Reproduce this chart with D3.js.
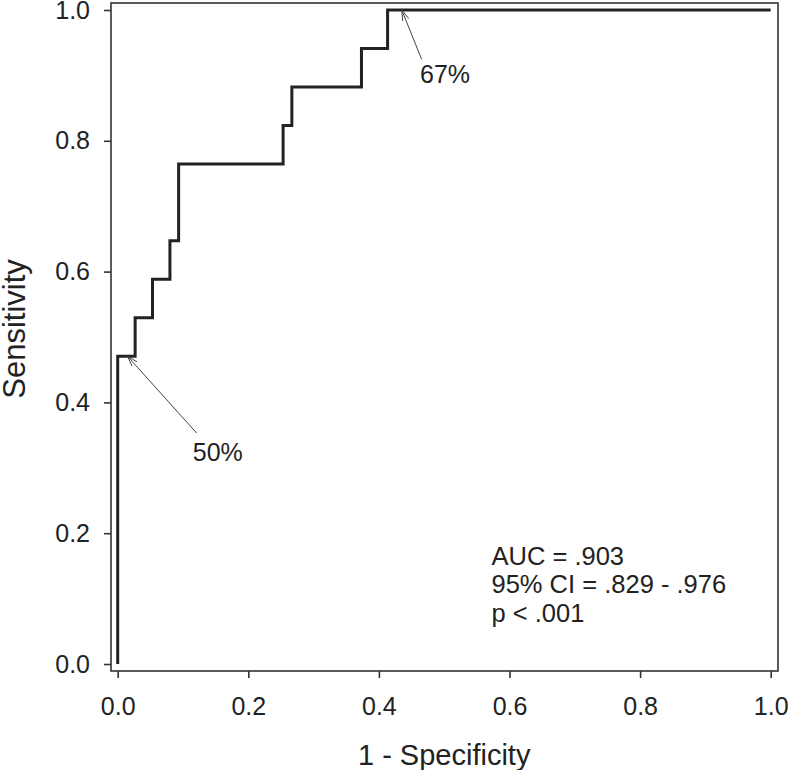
<!DOCTYPE html>
<html><head><meta charset="utf-8">
<script src="https://cdn.jsdelivr.net/npm/d3@7"></script>
<style>body{margin:0;background:#fff}svg{display:block}text{font-family:"Liberation Sans",Arial,Helvetica,sans-serif;fill:#222}</style>
</head><body><svg id="c" width="788" height="770"></svg>
<script>
// ROC curve data (1 - specificity, sensitivity)
const fpr = [0, 0, 0.0267, 0.0267, 0.0533, 0.0533, 0.08, 0.08, 0.0933, 0.0933, 0.2533, 0.2533, 0.2667, 0.2667, 0.3733, 0.3733, 0.4133, 0.4133, 1.0];
const tpr = [0, 0.4706, 0.4706, 0.5294, 0.5294, 0.5882, 0.5882, 0.6471, 0.6471, 0.7647, 0.7647, 0.8235, 0.8235, 0.8824, 0.8824, 0.9412, 0.9412, 1.0, 1.0];
const xTicks = [0, 0.2, 0.4, 0.6, 0.8, 1.0];
const yTicks = [0, 0.2, 0.4, 0.6, 0.8, 1.0];
const annLabels = ["50%", "67%"];
const annPoint = [[0.015, 0.4706], [0.435, 1.0]];
const annTail = [[0.121, 0.353], [0.4655, 0.9246]];
const annText = [[0.115, 0.31], [0.463, 0.889]];
const statsLines = ["AUC = .903", "95% CI = .829 - .976", "p < .001"];

const svg = d3.select("#c");
const x = d3.scaleLinear().domain([0, 1]).range([117.7, 770.7]);
const y = d3.scaleLinear().domain([0, 1]).range([664, 10]);
const frame = {l: 111, r: 778, t: 3, b: 671};

// frame
svg.append("rect").attr("x", frame.l).attr("y", frame.t)
  .attr("width", frame.r - frame.l).attr("height", frame.b - frame.t)
  .attr("fill", "none").attr("stroke", "#333").attr("stroke-width", 1.6);

const fmt = d3.format(".1f");
const gx = svg.append("g").attr("transform", `translate(0,${frame.b})`)
  .call(d3.axisBottom(x).tickValues(xTicks).tickFormat(fmt).tickSize(7).tickPadding(19));
const gy = svg.append("g").attr("transform", `translate(${frame.l},0)`)
  .call(d3.axisLeft(y).tickValues(yTicks).tickFormat(fmt).tickSize(7).tickPadding(14));
[gx, gy].forEach(g => {
  g.select(".domain").remove();
  g.selectAll(".tick line").attr("stroke", "#333").attr("stroke-width", 1.6);
  g.selectAll(".tick text").attr("font-size", 25).attr("fill", "#222")
    .attr("font-family", '"Liberation Sans",Arial,sans-serif');
});

// axis titles
svg.append("text").attr("x", x(0.5)).attr("y", 765).attr("text-anchor", "middle")
  .attr("font-size", 29).text("1 - Specificity");
svg.append("text").attr("transform", `translate(24.5,329) rotate(-90)`)
  .attr("text-anchor", "middle").attr("font-size", 31).text("Sensitivity");

// ROC step curve
const pts = fpr.map((v, i) => [v, tpr[i]]);
svg.append("path").datum(pts)
  .attr("d", d3.line().x(d => x(d[0])).y(d => y(d[1])))
  .attr("fill", "none").attr("stroke", "#222").attr("stroke-width", 3).attr("stroke-linejoin", "miter");

// annotations
annLabels.forEach((lab, i) => {
  const [tx, ty] = [x(annTail[i][0]), y(annTail[i][1])];
  const [px, py] = [x(annPoint[i][0]), y(annPoint[i][1])];
  svg.append("line").attr("x1", tx).attr("y1", ty).attr("x2", px).attr("y2", py)
    .attr("stroke", "#444").attr("stroke-width", 1);
  const ang = Math.atan2(ty - py, tx - px);
  const L = 11, a = 0.3;
  [ang - a, ang + a].forEach(t => {
    svg.append("line").attr("x1", px).attr("y1", py)
      .attr("x2", px + L * Math.cos(t)).attr("y2", py + L * Math.sin(t))
      .attr("stroke", "#444").attr("stroke-width", 1);
  });
  svg.append("text").attr("x", x(annText[i][0])).attr("y", y(annText[i][1]))
    .attr("font-size", 25).text(lab);
});

// stats text
svg.append("g").selectAll("text").data(statsLines).join("text")
  .attr("x", 491.5).attr("y", (d, i) => 565 + i * 28.3)
  .attr("font-size", 25.5).text(d => d);
</script></body></html>
